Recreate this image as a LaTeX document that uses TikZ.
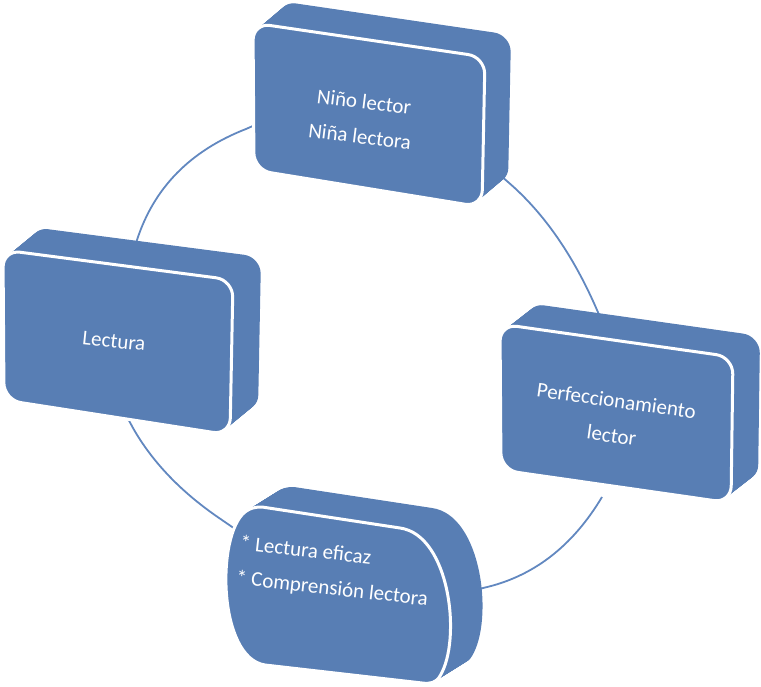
\documentclass[tikz,border=0pt]{standalone}
\usepackage{fontspec}
\setmainfont{Carlito}
\definecolor{boxblue}{RGB}{88,126,180}
\definecolor{ringblue}{RGB}{98,136,192}
\newcommand\pathTop{(253,23) -- (485,57) -- (482,207) -- (254,170) -- cycle}
\newcommand\pathLeft{(3,250) -- (233,280) -- (230,435) -- (4,400) -- cycle}
\newcommand\pathRight{(500,324) -- (733,357) -- (731,503) -- (501,470) -- cycle}
\newcommand\pathBottom{(262,507) -- (400,528) .. controls (450,535) and (462,640) .. (440,676) .. controls (436,683) and (430,684) .. (422,683) -- (265,665) .. controls (218,658) and (216,535) .. (245,512) .. controls (250,508) and (255,507) .. (262,507) -- cycle}
\begin{document}
\begin{tikzpicture}[x=1pt,y=-1pt,
  lbl/.style={text=white, inner sep=0pt, align=center, font=\fontsize{21}{35}\selectfont},
  ring/.style={draw=ringblue, line width=1.8pt},
  face/.style={fill=boxblue, draw=white, line width=3pt, line join=round},
  slab/.style={fill=boxblue}]
\useasboundingbox (0,0) rectangle (761,687);
% ring arcs (circle in perspective) behind the boxes
\coordinate (a0) at (255,125);
\coordinate (a1) at (246,129);
\coordinate (a2) at (137,240);
\coordinate (a3) at (134,250);
\coordinate (b0) at (500,175);
\coordinate (b1) at (508,182);
\coordinate (b2) at (597,310);
\coordinate (b3) at (601,319);
\coordinate (c0) at (126,415);
\coordinate (c1) at (133,428);
\coordinate (c2) at (222,520);
\coordinate (c3) at (238,531);
\coordinate (d0) at (471,592);
\coordinate (d1) at (483,588);
\coordinate (d2) at (602,497);
\draw[ring] (a0) -- (a1) .. controls (190.3,150.7) and (154,187.7) .. (a2) -- (a3);
\draw[ring] (b0) -- (b1) .. controls (543.7,212.7) and (573.3,255.3) .. (b2) -- (b3);
\draw[ring] (c0) -- (c1) .. controls (152.7,462.7) and (182.3,493.3) .. (c2) -- (c3);
\draw[ring] (d0) -- (d1) .. controls (532.7,577) and (572.3,546.7) .. (d2);
% top box
\foreach \i in {0,...,40} \fill[slab, rounded corners=17, shift={(26*\i/40,-22*\i/40)}] \pathTop;
\path[face, rounded corners=17] \pathTop;
% left box
\foreach \i in {0,...,40} \fill[slab, rounded corners=17, shift={(28*\i/40,-23*\i/40)}] \pathLeft;
\path[face, rounded corners=17] \pathLeft;
% right box
\foreach \i in {0,...,40} \fill[slab, rounded corners=17, shift={(27*\i/40,-21*\i/40)}] \pathRight;
\path[face, rounded corners=17] \pathRight;
% bottom box
\foreach \i in {0,...,40} \fill[slab, shift={(32*\i/40,-20*\i/40)}] \pathBottom;
\path[face] \pathBottom;
% labels
\node[lbl, rotate=-7] (nino) at (362,119) {Niño lector\\Niña lectora};
\node[lbl, rotate=-6] (lectura) at (114,341) {Lectura};
\node[lbl, rotate=-8] (perf) at (614,418) {Perfeccionamiento\\lector};
\node[lbl, rotate=-6.5, anchor=west, align=left] (efic) at (238,561) {* Lectura eficaz\\* Comprensión lectora};
\end{tikzpicture}
\end{document}
